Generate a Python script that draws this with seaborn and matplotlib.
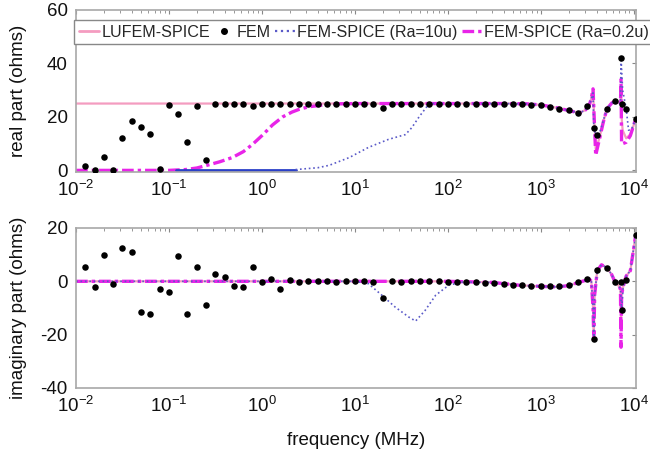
import matplotlib
matplotlib.use("Agg")
import matplotlib.pyplot as plt
import seaborn as sns
from matplotlib.lines import Line2D
from matplotlib.ticker import LogLocator, NullFormatter, FixedLocator

# FEM samples (frequency in MHz)
fem_freq = [0.0126, 0.0158, 0.02, 0.0251, 0.0316, 0.0398, 0.0501, 0.0631, 0.0794,
            0.1, 0.126, 0.158, 0.2, 0.251, 0.316, 0.398, 0.501, 0.631, 0.794,
            1.0, 1.26, 1.58, 2.0, 2.51, 3.16, 3.98, 5.01, 6.31, 7.94,
            10, 12.6, 15.8, 20, 25.1, 31.6, 39.8, 50.1, 63.1, 79.4,
            100, 126, 158, 200, 251, 316, 398, 501, 631, 794,
            1000, 1260, 1580, 2000, 2510, 3160, 3720, 4050, 5150, 6300, 7300, 7500, 8300, 10500]
fem_real = [1.5, 0.3, 5, 0.3, 12, 18.5, 16.3, 13.5, 0.5,
            24.5, 21, 10.5, 24, 4, 25, 25, 25, 25, 24,
            25, 25, 24.7, 25, 25, 25, 25, 25, 25, 25,
            25, 25, 25, 23.5, 25, 25, 25, 25, 25, 25,
            25, 25, 25, 25, 24.9, 24.9, 24.8, 24.8, 24.7, 24.6,
            24.3, 23.8, 23, 22.4, 21.6, 23.9, 16, 13.4, 23, 26, 42, 25, 23, 19.4]
fem_imag = [5.3, -2.2, 9.8, -1, 12.6, 11, -11.6, -12.4, -3,
            -4, 9.4, -12.4, 5.2, -9, 2.6, 1.5, -1.7, -2.2, 5.3,
            -0.4, 1, -3, 0.6, -0.2, 0.3, 0, 0, -0.3, 0.3,
            0, 0, -0.4, -6.3, 0, -0.2, 0, 0, 0, 0,
            -0.1, -0.2, -0.4, -0.4, -0.6, -0.8, -1, -1.2, -1.4, -1.6,
            -1.8, -1.8, -1.7, -1.5, -0.3, 1, -21.8, 4.1, 5.1, -0.3, -0.3, -10.8, 0.5, 17.3]

# LUFEM-SPICE
lu_freq = [0.01, 100, 400, 700, 1000, 1500, 2100, 2600, 3000, 3300, 3500, 3650, 3750, 3900,
           4100, 4300, 4700, 5150, 5800, 6400, 7000, 7200, 7300, 7400, 7600, 8300, 9200, 9800, 10500]
lu_real = [25, 25, 25, 24.9, 24.5, 23.4, 22.2, 21.5, 22.5, 24, 27, 30, 20, 8,
           10, 12.5, 18, 23, 25.2, 26, 25.5, 25, 30, 20, 15, 12, 13.5, 16, 19.4]
lu_imag_freq = [0.01, 100, 300, 600, 1000, 1500, 2000, 2600, 3000, 3300, 3500, 3650, 3720, 3800,
                4050, 4500, 5150, 5800, 6300, 7000, 7200, 7300, 7400, 7700, 8300, 9200, 9800, 10500]
lu_imag = [0, 0, -0.4, -1.5, -1.9, -2.1, -1.6, -0.3, 0.3, 1, 0, -10, -20, -5,
           4, 6.2, 5.1, 2.5, -0.3, -2, -3, -15, -5, -2, 2, 4, 10.4, 17.3]

# FEM-SPICE (Ra=0.2u)
r02_freq = [0.01, 0.1, 0.15, 0.2, 0.25, 0.35, 0.48, 0.63, 0.79, 1.0, 1.3, 1.67, 2.1, 2.5, 3.2,
            4.9, 7, 10, 100, 400, 700, 1000, 1500, 2100, 2600, 3000, 3300, 3500, 3650, 3750,
            3900, 4100, 4300, 4700, 5150, 5800, 6400, 7000, 7200, 7300, 7400, 7600, 8300,
            9200, 9800, 10500]
r02_real = [0, 0, 0.3, 0.9, 1.8, 3.2, 4.8, 7, 9.7, 13, 17, 20, 21.8, 22.8, 23.8,
            24.6, 24.9, 25, 25, 25, 24.9, 24.5, 23.4, 22.2, 21.5, 22.5, 24, 27, 30.5, 20,
            5.6, 9, 12, 18, 23, 25.2, 26, 25.5, 25, 34, 10, 10, 10.5,
            13, 16, 19.4]
r02_imag_freq = [0.01, 100, 300, 600, 1000, 1500, 2000, 2600, 3000, 3300, 3500, 3650, 3720,
                 3800, 4050, 4500, 5150, 5800, 6300, 7000, 7200, 7300, 7400, 7700, 8300,
                 9200, 9800, 10500]
r02_imag = [0, 0, -0.4, -1.5, -1.9, -2.1, -1.6, -0.3, 0.3, 1, 0, -10, -22,
            -5, 4, 6.2, 5.1, 2.5, -0.3, -2, -3, -24.7, -5, -2, 2,
            4, 10.4, 17.3]

# FEM-SPICE (Ra=10u)
r10_low_freq = [0.12, 2.3]
r10_low_real = [0, 0]
r10_freq = [2.3, 4, 5.3, 8.7, 14, 23, 35, 41, 49, 63, 100, 400, 700, 1000, 1500, 2100,
            2600, 3000, 3300, 3500, 3650, 3720, 3850, 4050, 4300, 4700, 5150, 5800, 6400,
            7000, 7200, 7300, 7600, 8300, 8800, 9500, 10500]
r10_real = [0.3, 1, 1.9, 4.8, 8.6, 11.6, 13.4, 16, 20, 25, 25, 25, 24.9, 24.5, 23.4, 22.2,
            21.5, 22.5, 24, 27, 29, 16, 14, 13.4, 14, 18.6, 23, 25.2, 26,
            25.5, 25, 42, 30, 23, 15, 15.5, 19.4]
r10_imag_freq = [0.01, 10, 14, 19.5, 27, 38, 45, 57, 74, 102, 140, 300, 600, 1000, 1500,
                 2000, 2600, 3000, 3300, 3500, 3650, 3720, 3800, 4050, 4500, 5150, 5800,
                 6300, 7000, 7200, 7400, 7700, 8300, 9200, 9800, 10500]
r10_imag = [0, 0, -0.9, -5.2, -9.6, -13.4, -14.9, -10.9, -5.2, -1.5, -0.3, -0.4, -1.5,
            -1.9, -2.1, -1.6, -0.3, 0.3, 1, 0, -10, -21.8, -5, 4, 6.2, 5.1, 2.5,
            -0.3, -2, -3, -10.8, -2, 2, 4, 10.4, 17.3]

labels = ['LUFEM-SPICE', 'FEM', 'FEM-SPICE (Ra=10u)', 'FEM-SPICE (Ra=0.2u)']

sns.set_theme(style="white")
plt.rcParams['font.family'] = ['Liberation Sans', 'DejaVu Sans']
plt.rcParams['axes.unicode_minus'] = False
plt.rcParams['mathtext.fontset'] = 'custom'
plt.rcParams['mathtext.rm'] = 'Liberation Sans'
plt.rcParams['mathtext.it'] = 'Liberation Sans:italic'

PINK = '#f49cc0'
BLUE = '#5a5ac8'
BLUE_SOLID = '#2a40c8'
MAG = '#e824e8'
FRAME = '#a8a8a8'

fig = plt.figure(figsize=(6.5, 4.59), dpi=100)
ax1 = fig.add_axes([0.117, 0.6253, 0.861, 0.353])
ax2 = fig.add_axes([0.117, 0.1547, 0.861, 0.3486])

mag_dash = (3.5, 1.2, 1.0, 1.2)


def line(ax, x, y, **kw):
    sns.lineplot(x=x, y=y, ax=ax, sort=False, estimator=None, **kw)


# real part
line(ax1, lu_freq, lu_real, color=PINK, lw=1.6)
line(ax1, r02_freq, r02_real, color=MAG, lw=2.4, dashes=mag_dash)
line(ax1, r10_low_freq, r10_low_real, color=BLUE_SOLID, lw=2.0)
line(ax1, r10_freq, r10_real, color=BLUE, lw=1.2, ls=':')
sns.scatterplot(x=fem_freq, y=fem_real, ax=ax1, color='black', s=22, linewidth=0, zorder=5)

# imaginary part
line(ax2, lu_imag_freq, lu_imag, color=PINK, lw=1.6)
line(ax2, r02_imag_freq, r02_imag, color=MAG, lw=2.4, dashes=mag_dash)
line(ax2, r10_imag_freq, r10_imag, color=BLUE, lw=1.2, ls=':')
sns.scatterplot(x=fem_freq, y=fem_imag, ax=ax2, color='black', s=22, linewidth=0, zorder=5)

for ax, ylim, yt in [(ax1, (-0.6, 60), [0, 20, 40, 60]), (ax2, (-40, 20), [-40, -20, 0, 20])]:
    ax.set_xscale('log')
    ax.set_xlim(1e-2, 1.05e4)
    ax.set_ylim(*ylim)
    ax.set_yticks(yt)
    ax.xaxis.set_major_locator(FixedLocator([1e-2, 1e-1, 1, 10, 100, 1e3, 1e4]))
    ax.xaxis.set_minor_locator(LogLocator(base=10, subs=range(2, 10), numticks=20))
    ax.xaxis.set_minor_formatter(NullFormatter())
    ax.tick_params(axis='both', which='both', direction='in', top=True, right=True,
                   color='#888888', labelsize=13.5, labelcolor='#111111', pad=6)
    ax.tick_params(which='major', length=3, width=0.8)
    ax.tick_params(which='minor', length=2, width=0.6)
    for sp in ax.spines.values():
        sp.set_color(FRAME)
        sp.set_linewidth(1.2)

ax1.set_ylabel('real part (ohms)', fontsize=13.5, color='#111111')
ax2.set_ylabel('imaginary part (ohms)', fontsize=13.5, color='#111111')
ax1.yaxis.set_label_coords(-0.088, 0.5)
ax2.yaxis.set_label_coords(-0.088, 0.5)
ax2.set_xlabel('frequency (MHz)', fontsize=13.5, color='#111111')
ax2.xaxis.set_label_coords(0.5, -0.275)

handles = [Line2D([], [], color=PINK, lw=2),
           Line2D([], [], color='black', marker='o', ls='none', ms=4),
           Line2D([], [], color=BLUE, lw=1.6, ls=':'),
           Line2D([], [], color=MAG, lw=2.4, dashes=mag_dash)]
leg = ax1.legend(handles, labels, loc='upper left', bbox_to_anchor=(-0.004, 0.94),
                 ncol=4, fontsize=11.6, frameon=True, fancybox=False, framealpha=1,
                 edgecolor='#888888', borderaxespad=0, handlelength=1.25,
                 handletextpad=0.15, columnspacing=0.25, borderpad=0.3)
leg.get_frame().set_linewidth(1.0)

fig.savefig('out.png', dpi=100)
